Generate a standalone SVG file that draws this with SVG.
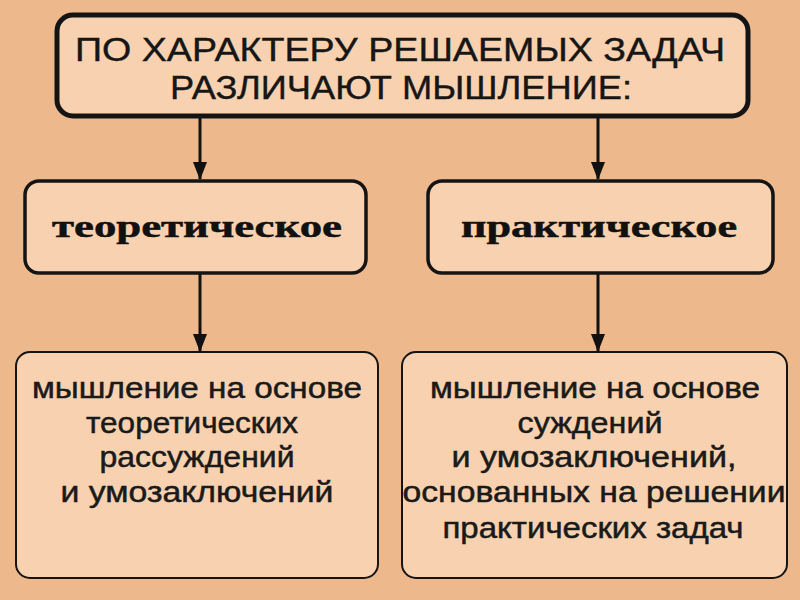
<svg xmlns="http://www.w3.org/2000/svg" width="800" height="600" viewBox="0 0 800 600">
<defs>
<marker id="ah" markerWidth="18" markerHeight="14" refX="17" refY="7" orient="auto" markerUnits="userSpaceOnUse" viewBox="0 0 18 14">
<path d="M0,0 L18,7 L0,14 Z" fill="#111"/>
</marker>
<style>
.bg{fill:#EDB88C}
.box{fill:#F8D2B0;stroke:#141414}
.top{stroke-width:5}
.mid{stroke-width:3.5}
.bot{stroke-width:2}
.cap{font-family:"Liberation Sans",Arial,sans-serif;font-size:33px;fill:#161616;stroke:#161616;stroke-width:0.4;text-anchor:middle}
.bold{font-family:"Liberation Serif","Times New Roman",serif;font-weight:bold;font-size:32px;fill:#111;stroke:#111;stroke-width:0.5;text-anchor:middle}
.body{font-family:"Liberation Sans",Arial,sans-serif;font-size:30px;fill:#1a1a1a;stroke:#1a1a1a;stroke-width:0.5;text-anchor:middle}
.conn line{stroke:#111;stroke-width:3;marker-end:url(#ah)}
</style>
</defs>
<rect class="bg" x="0" y="0" width="800" height="600"/>
<g id="connectors" class="conn">
<line x1="200" y1="117" x2="200" y2="179"/>
<line x1="598" y1="117" x2="598" y2="179"/>
<line x1="200" y1="273" x2="200" y2="351"/>
<line x1="598" y1="273" x2="598" y2="351"/>
</g>
<g id="root">
<rect class="box top" x="57" y="15" width="691" height="101" rx="16"/>
<text class="cap" x="400" y="61" textLength="650" lengthAdjust="spacingAndGlyphs">ПО ХАРАКТЕРУ РЕШАЕМЫХ ЗАДАЧ</text>
<text class="cap" x="401" y="99" textLength="462" lengthAdjust="spacingAndGlyphs">РАЗЛИЧАЮТ МЫШЛЕНИЕ:</text>
</g>
<g id="theoretical">
<rect class="box mid" x="25" y="181" width="341" height="92" rx="14"/>
<text class="bold" x="197" y="237" textLength="290" lengthAdjust="spacingAndGlyphs">теоретическое</text>
</g>
<g id="practical">
<rect class="box mid" x="428" y="181" width="345" height="92" rx="14"/>
<text class="bold" x="599" y="237" textLength="276" lengthAdjust="spacingAndGlyphs">практическое</text>
</g>
<g id="theoretical-desc">
<rect class="box bot" x="16" y="352" width="362" height="226" rx="14"/>
<text class="body" x="197" y="398" textLength="330" lengthAdjust="spacingAndGlyphs">мышление на основе</text>
<text class="body" x="192" y="433" textLength="212" lengthAdjust="spacingAndGlyphs">теоретических</text>
<text class="body" x="197" y="467" textLength="195" lengthAdjust="spacingAndGlyphs">рассуждений</text>
<text class="body" x="197" y="502" textLength="273" lengthAdjust="spacingAndGlyphs">и умозаключений</text>
</g>
<g id="practical-desc">
<rect class="box bot" x="402" y="352" width="385" height="226" rx="14"/>
<text class="body" x="595" y="398" textLength="330" lengthAdjust="spacingAndGlyphs">мышление на основе</text>
<text class="body" x="590" y="433" textLength="145" lengthAdjust="spacingAndGlyphs">суждений</text>
<text class="body" x="594" y="467" textLength="285" lengthAdjust="spacingAndGlyphs">и умозаключений,</text>
<text class="body" x="594" y="502" textLength="383" lengthAdjust="spacingAndGlyphs">основанных на решении</text>
<text class="body" x="593" y="538" textLength="301" lengthAdjust="spacingAndGlyphs">практических задач</text>
</g>
</svg>
